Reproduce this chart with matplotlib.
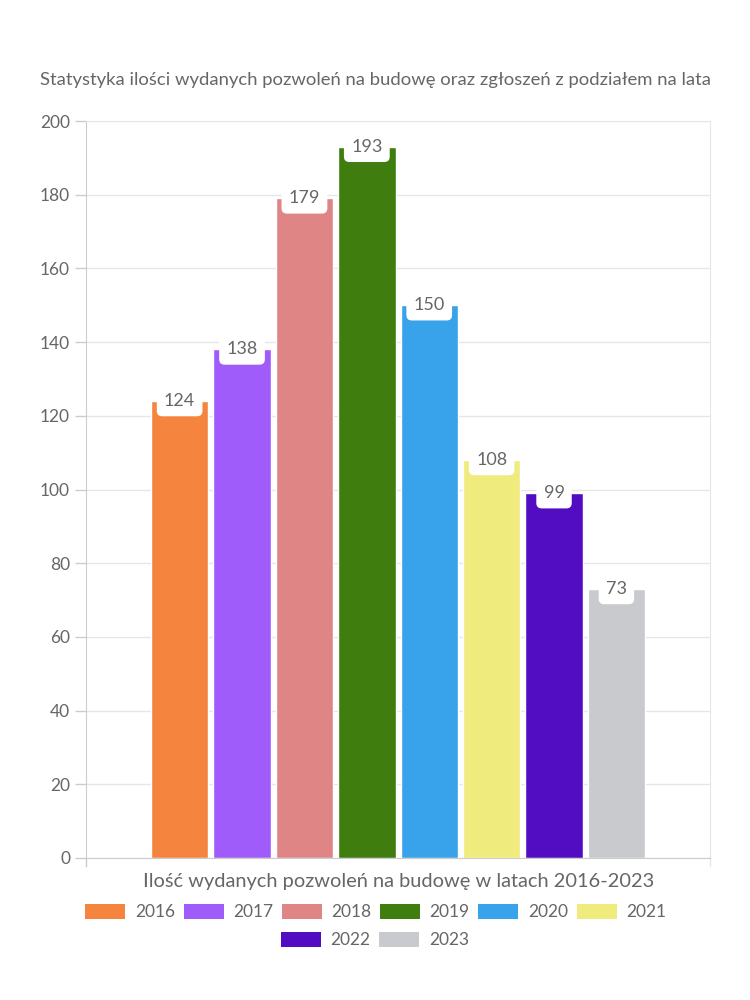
import matplotlib.pyplot as plt
from matplotlib.patches import Patch

years = ['2016', '2017', '2018', '2019', '2020', '2021', '2022', '2023']
permits = [124, 138, 179, 193, 150, 108, 99, 73]
colors = ['#F5843F', '#A05CFA', '#E08585', '#3F7D0E', '#38A3EA', '#F0EB7D', '#520DC2', '#C9CACD']

plt.rcParams['font.family'] = ['Lato', 'DejaVu Sans']
txt = '#666666'
grid = '#e6e6e6'

fig = plt.figure(figsize=(7.5, 10), dpi=100)
ax = fig.add_axes([0.1147, 0.142, 0.832, 0.737])

# one category, eight datasets side by side (like chart.js grouping)
slot = 0.8 / len(years)
for i, (y, v, c) in enumerate(zip(years, permits, colors)):
    xc = 0.1 + slot / 2 + i * slot
    ax.bar(xc, v, width=slot * 0.92, color=c, edgecolor='white', linewidth=1, zorder=2)
    ax.text(xc, v, str(v), ha='center', va='center', fontsize=13, color=txt, zorder=4,
            bbox=dict(boxstyle='round,pad=0.4,rounding_size=0.3', fc='white', ec='none'))

ax.set_xlim(0, 1)
ax.set_ylim(0, 200)
ax.set_yticks(range(0, 201, 20))
ax.set_xticks([])
ax.tick_params(axis='y', colors='#cccccc', labelcolor=txt, labelsize=12.5, length=8, width=1)
ax.grid(axis='y', color=grid, linewidth=1, zorder=0)
for s in ['top', 'right']:
    ax.spines[s].set_color(grid)
ax.spines['left'].set_color('#cccccc')
ax.spines['bottom'].set_color('#cccccc')
# short tick marks below the axis at the category edges
for xe in [0, 1]:
    ax.plot([xe, xe], [0, -2.2], color='#cccccc' if xe == 0 else grid, lw=1, clip_on=False)

fig.text(0.5, 0.92, 'Statystyka ilości wydanych pozwoleń na budowę oraz zgłoszeń z podziałem na lata',
         ha='center', va='center', fontsize=13.3, color=txt)
fig.text(0.531, 0.119, 'Ilość wydanych pozwoleń na budowę w latach 2016-2023',
         ha='center', va='center', fontsize=14.4, color=txt)

handles = [Patch(facecolor=c, edgecolor='none') for c in colors]
kw = dict(frameon=False, fontsize=12.5, labelcolor=txt, handlelength=2.3, handleheight=1.0,
          columnspacing=0.5, handletextpad=0.55)
fig.legend(handles[:6], years[:6], loc='center', bbox_to_anchor=(0.501, 0.088), ncol=6, **kw)
fig.legend(handles[6:], years[6:], loc='center', bbox_to_anchor=(0.5, 0.06), ncol=2, **kw)

fig.savefig('out.png', dpi=100, facecolor='white')
